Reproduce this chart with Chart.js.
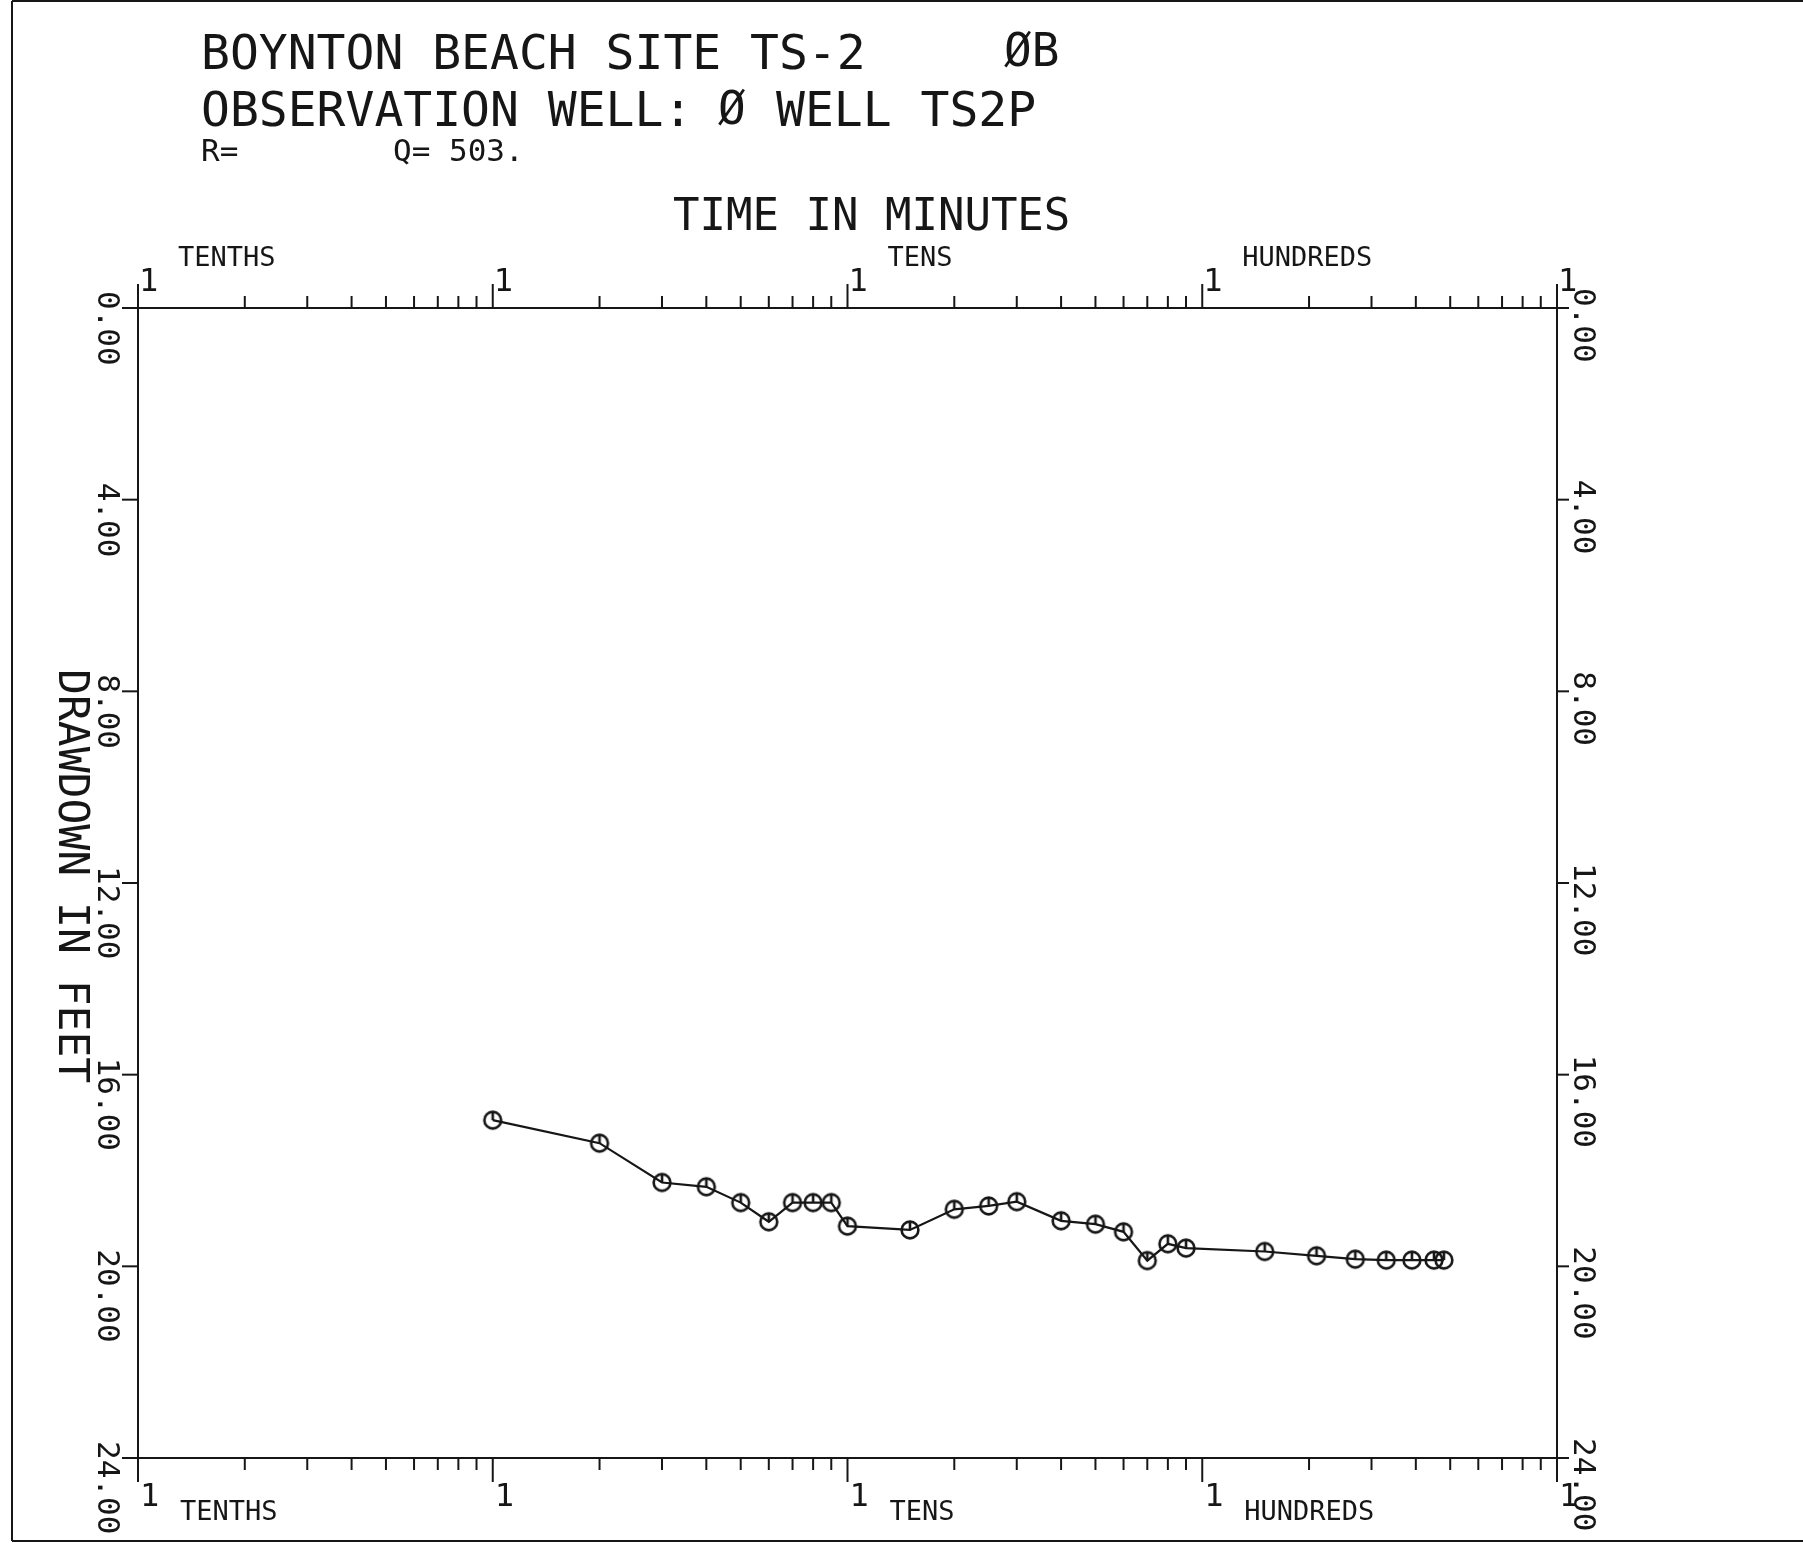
<!DOCTYPE html>
<html>
<head>
<meta charset="utf-8">
<title>Boynton Beach Site TS-2 drawdown</title>
<script src="https://cdn.jsdelivr.net/npm/chart.js@4.4.0/dist/chart.umd.min.js"></script>
<style>
  html, body { margin: 0; padding: 0; background: #fff; }
  canvas { display: block; }
</style>
</head>
<body>
<canvas id="drawdownChart" width="1803" height="1543"></canvas>
<script>
// time since pumping started (minutes) and drawdown (feet)
const timeMinutes = [1, 2, 3, 4, 5, 6, 7, 8, 9, 10, 15, 20, 25, 30, 40, 50, 60, 70, 80, 90, 150, 210, 270, 330, 390, 450, 480];
const drawdownFeet = [16.95, 17.43, 18.25, 18.34, 18.67, 19.07, 18.67, 18.67, 18.67, 19.16, 19.24, 18.81, 18.74, 18.65,
                      19.05, 19.12, 19.28, 19.88, 19.53, 19.62, 19.69, 19.78, 19.85, 19.87, 19.87, 19.87, 19.87];

// log cycles on the time axis
const decadeStarts = [0.1, 1, 10, 100, 1000];
const decadeNames = ['TENTHS', '', 'TENS', 'HUNDREDS'];
const decadeMark = '1';

// drawdown axis
const drawdownTicks = [0, 4, 8, 12, 16, 20, 24];
const drawdownTickLabels = ['0.00', '4.00', '8.00', '12.00', '16.00', '20.00', '24.00'];

const ink = '#161616';
const mono = '"DejaVu Sans Mono", monospace';

// plotter symbol: open circle with a tick from the top to the centre
const marker = document.createElement('canvas');
marker.width = 24;
marker.height = 24;
const m = marker.getContext('2d');
m.strokeStyle = ink;
m.lineWidth = 2.6;
m.beginPath();
m.arc(12, 12, 8.4, 0, Math.PI * 2);
m.stroke();
m.beginPath();
m.moveTo(12, 3.6);
m.lineTo(12, 12);
m.stroke();

function seg(ctx, x1, y1, x2, y2) {
    ctx.beginPath();
    ctx.moveTo(x1, y1);
    ctx.lineTo(x2, y2);
    ctx.stroke();
}

// text running top to bottom (turned 90 degrees clockwise)
function textDown(ctx, str, cx, top, size) {
    ctx.save();
    ctx.translate(cx, top);
    ctx.rotate(Math.PI / 2);
    ctx.font = size + 'px ' + mono;
    ctx.textAlign = 'left';
    ctx.textBaseline = 'middle';
    ctx.fillText(str, 0, 0);
    ctx.restore();
}

function textAt(ctx, str, x, y, size) {
    ctx.font = size + 'px ' + mono;
    ctx.textAlign = 'left';
    ctx.textBaseline = 'alphabetic';
    ctx.fillText(str, x, y);
}

const plotterSheet = {
    id: 'plotterSheet',
    beforeDatasetsDraw(chart) {
        const { ctx, chartArea: a, scales: { x, y } } = chart;
        ctx.save();
        ctx.strokeStyle = ink;
        ctx.fillStyle = ink;
        ctx.lineWidth = 2;

        // sheet border
        seg(ctx, 12, 1, chart.width, 1);
        seg(ctx, 12, 1, 12, 1541);
        seg(ctx, 12, 1541, chart.width, 1541);

        // axis box
        seg(ctx, a.left - 16, a.top, a.right, a.top);
        seg(ctx, a.left - 16, a.bottom, a.right, a.bottom);
        seg(ctx, a.left, a.top, a.left, a.bottom);
        seg(ctx, a.right, a.top, a.right, a.bottom);

        // time axis, top and bottom
        decadeStarts.forEach((d, i) => {
            const px = x.getPixelForValue(d);
            seg(ctx, px, a.top, px, a.top - 24);
            seg(ctx, px, a.bottom, px, a.bottom + 24);
            textAt(ctx, decadeMark, px + 1, a.top - 17, 32);
            textAt(ctx, decadeMark, px + 2, a.bottom + 48, 32);
            if (i < decadeNames.length) {
                for (let k = 2; k <= 9; k++) {
                    const mx = x.getPixelForValue(d * k);
                    seg(ctx, mx, a.top, mx, a.top - 12);
                    seg(ctx, mx, a.bottom, mx, a.bottom + 12);
                }
                if (decadeNames[i]) {
                    textAt(ctx, decadeNames[i], px + 40, a.top - 42, 27);
                    textAt(ctx, decadeNames[i], px + 42, a.bottom + 62, 27);
                }
            }
        });

        // drawdown axis, left and right
        drawdownTicks.forEach((v, i) => {
            const py = y.getPixelForValue(v);
            seg(ctx, a.left - 16, py, a.left, py);
            seg(ctx, a.right, py, a.right + 12, py);
            textDown(ctx, drawdownTickLabels[i], 106, py - 17, 31);
            textDown(ctx, drawdownTickLabels[i], a.right + 25, py - 20, 31);
        });

        textDown(ctx, 'DRAWDOWN IN FEET', 70, 669, 43);
        textAt(ctx, 'TIME IN MINUTES', 673, 230, 44);

        // header
        textAt(ctx, 'BOYNTON BEACH SITE TS-2', 201, 69, 48);
        textAt(ctx, 'ØB', 1004, 66, 46);
        textAt(ctx, 'OBSERVATION WELL:', 201, 126, 48);
        textAt(ctx, 'Ø', 718, 124, 46);
        textAt(ctx, 'WELL TS2P', 776, 126, 48);
        textAt(ctx, 'R=', 201, 161, 31);
        textAt(ctx, 'Q= 503.', 393, 161, 31);

        ctx.restore();
    }
};

const ctx = document.getElementById('drawdownChart').getContext('2d');

new Chart(ctx, {
    type: 'scatter',
    data: {
        datasets: [{
            label: 'Drawdown',
            data: timeMinutes.map((t, i) => ({ x: t, y: drawdownFeet[i] })),
            showLine: true,
            borderColor: ink,
            borderWidth: 2.2,
            pointStyle: marker,
            pointRadius: 10,
            clip: false
        }]
    },
    options: {
        responsive: false,
        animation: false,
        devicePixelRatio: 1,
        layout: { padding: { left: 138, right: 246, top: 308, bottom: 85 } },
        plugins: { legend: { display: false }, tooltip: { enabled: false } },
        scales: {
            x: { type: 'logarithmic', min: 0.1, max: 1000, display: false },
            y: { min: 0, max: 24, reverse: true, display: false }
        }
    },
    plugins: [plotterSheet]
});
</script>
</body>
</html>
